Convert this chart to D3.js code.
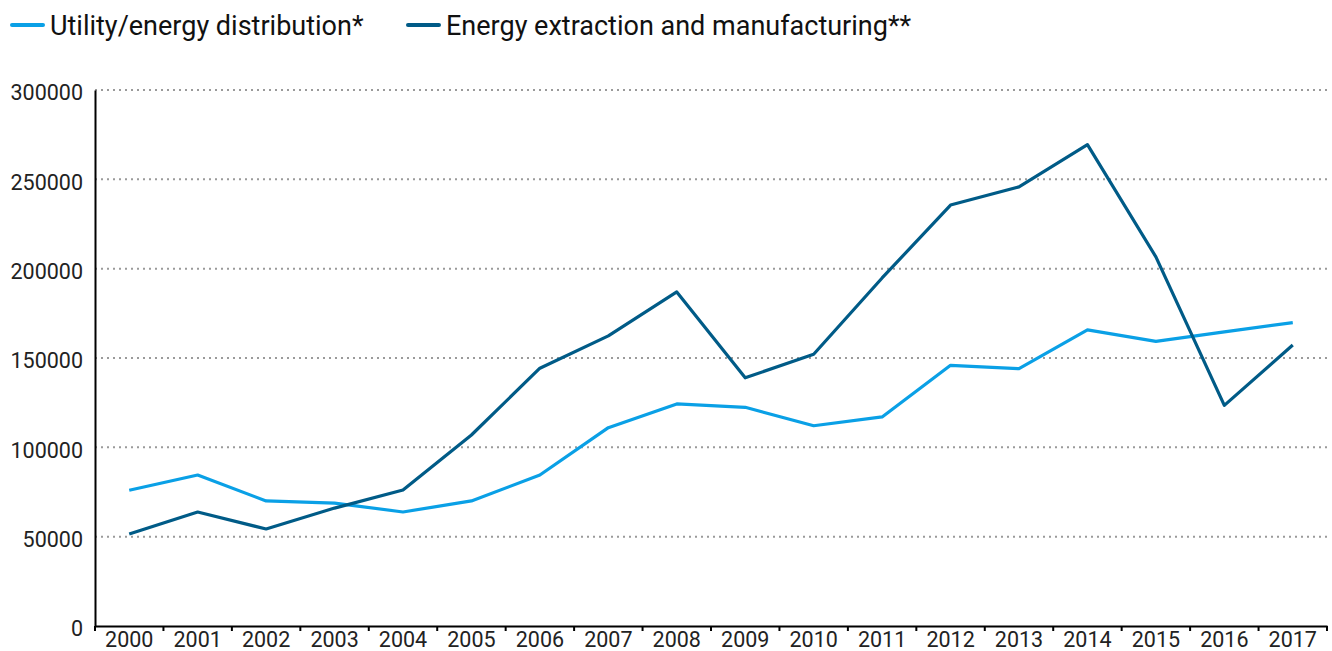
<!DOCTYPE html>
<html><head><meta charset="utf-8">
<script src="https://cdn.jsdelivr.net/npm/d3@7"></script>
<style>
body{margin:0;background:#fff;font-family:Roboto,sans-serif;}
</style></head>
<body><svg id="c" width="1332" height="651"></svg>
<script>
const years = ["2000","2001","2002","2003","2004","2005","2006","2007","2008","2009","2010","2011","2012","2013","2014","2015","2016","2017"];
const utility = [76000,84500,70000,68800,63800,70000,84500,111000,124300,122400,112100,117000,145900,144000,165700,159300,164600,169800];
const extraction = [51500,63800,54300,66000,76100,106900,144300,162400,187000,138900,152100,194800,235600,245800,269400,206600,123500,157300];
const yTicks = [0,50000,100000,150000,200000,250000,300000];
const seriesNames = ["Utility/energy distribution*","Energy extraction and manufacturing**"];
const colors = ["#0aa0e6","#005b87"];

(function(){
const svg = d3.select("#c");
const mL = 95, mR = 1327, mT = 90, mB = 626;
const x = d3.scaleBand().domain(years).range([mL,mR]);
const y = d3.scaleLinear().domain([0,300000]).range([mB,mT]);

// grid
svg.append("g").selectAll("line").data(yTicks.filter(d=>d>0)).join("line")
  .attr("x1",mL).attr("x2",mR).attr("y1",d=>y(d)).attr("y2",d=>y(d))
  .attr("stroke","#9a9a9a").attr("stroke-width",2).attr("stroke-dasharray","2,4");

// y axis
const ya = svg.append("g").attr("transform",`translate(${mL},0)`)
  .call(d3.axisLeft(y).tickValues(yTicks).tickSize(0).tickPadding(12).tickFormat(d3.format("d")));
ya.select(".domain").attr("stroke","#000").attr("stroke-width",2);
ya.selectAll("text").attr("font-family","Roboto").attr("font-size",21.5).attr("fill","#222").attr("dy","0.45em");

// x axis
const xa = svg.append("g").attr("transform",`translate(0,${mB})`)
  .call(d3.axisBottom(x).tickSize(0).tickPadding(6));
xa.select(".domain").attr("stroke","#000").attr("stroke-width",2);
xa.selectAll("text").attr("font-family","Roboto").attr("font-size",21.5).attr("fill","#222");
const bounds = years.map(d=>x(d)).concat([x(years[years.length-1])+x.bandwidth()]);
xa.append("g").selectAll("line").data(bounds).join("line")
  .attr("x1",d=>d).attr("x2",d=>d).attr("y1",0).attr("y2",5)
  .attr("stroke","#000").attr("stroke-width",2);

// lines
const line = d3.line().x((d,i)=>x(years[i])+x.bandwidth()/2).y(d=>y(d));
[utility,extraction].forEach((s,i)=>{
  svg.append("path").datum(s).attr("d",line).attr("fill","none")
    .attr("stroke",colors[i]).attr("stroke-width",3.2).attr("stroke-linejoin","round");
});

// legend
const lx = [12,408];
seriesNames.forEach((n,i)=>{
  const g = svg.append("g").attr("transform",`translate(${lx[i]},25)`);
  g.append("line").attr("x1",0).attr("x2",31).attr("y1",0).attr("y2",0)
    .attr("stroke",colors[i]).attr("stroke-width",4).attr("stroke-linecap","round");
  g.append("text").attr("x",38).attr("y",0).attr("dy","0.38em")
    .attr("font-family","Roboto").attr("font-size",27).attr("fill","#111").text(n);
});
})();
</script></body></html>
